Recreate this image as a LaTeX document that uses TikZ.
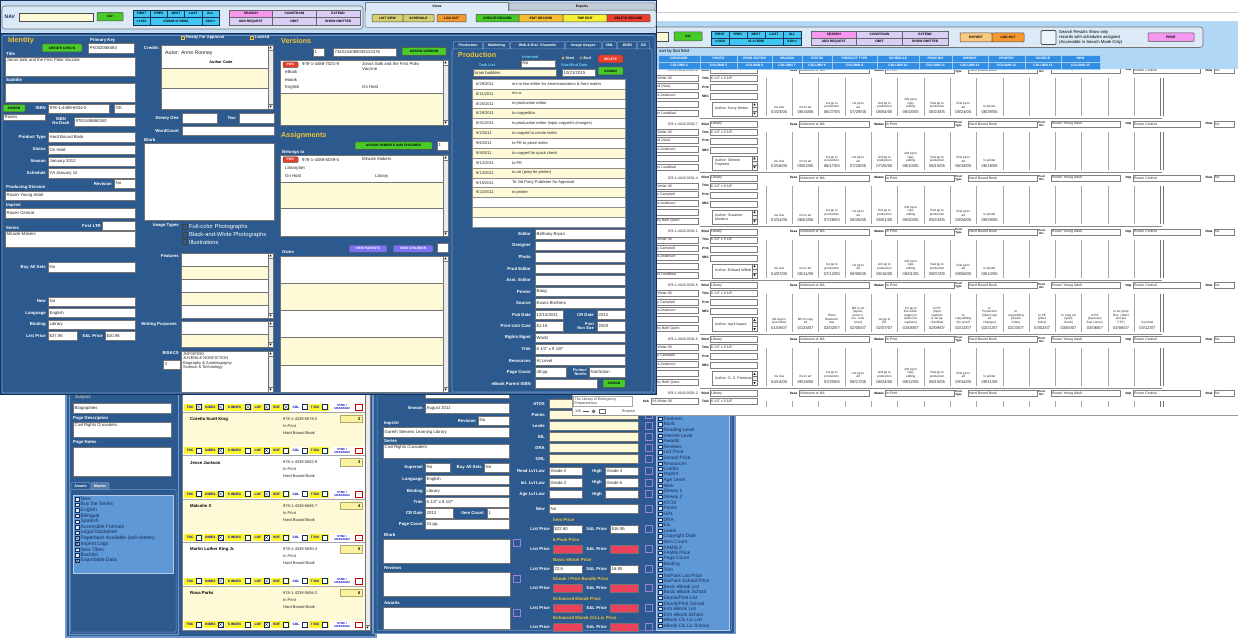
\documentclass[tikz,border=0pt]{standalone}
\usepackage{fontspec}
\setmainfont{Liberation Sans}
\definecolor{bodyblue}{RGB}{44,90,142}
\definecolor{edgeblue}{RGB}{112,152,204}
\definecolor{darkedge}{RGB}{22,50,90}
\definecolor{tbblue}{RGB}{196,221,244}
\definecolor{tbframe}{RGB}{220,233,247}
\definecolor{fieldyel}{RGB}{254,250,216}
\definecolor{gold}{RGB}{244,196,52}
\definecolor{cyanlbl}{RGB}{112,212,250}
\definecolor{btngreen}{RGB}{72,202,42}
\definecolor{btnred}{RGB}{234,62,46}
\definecolor{navcyan}{RGB}{64,198,240}
\definecolor{pinkbtn}{RGB}{246,152,240}
\definecolor{lavbtn}{RGB}{218,206,246}
\definecolor{olivebtn}{RGB}{216,208,112}
\definecolor{orangebtn}{RGB}{246,152,48}
\definecolor{lorange}{RGB}{250,200,128}
\definecolor{ambbtn}{RGB}{247,190,52}
\definecolor{yelbtn}{RGB}{246,240,52}
\definecolor{purplebtn}{RGB}{122,112,242}
\definecolor{listblue}{RGB}{94,152,214}
\definecolor{tabblue}{RGB}{50,142,228}
\definecolor{bandblue}{RGB}{178,215,245}
\definecolor{redfld}{RGB}{234,66,92}
\definecolor{tagyel}{RGB}{250,244,40}
\definecolor{navy}{RGB}{22,44,88}
\definecolor{ckpurple}{RGB}{156,126,222}
\definecolor{numyel}{RGB}{250,242,160}
\newcommand\sz[1]{\fontsize{#1}{#1}\selectfont}
\tikzset{
  lbl/.style={anchor=east,inner sep=0pt,text=white,font=\sz{4.3}\bfseries},
  lbw/.style={anchor=west,inner sep=0pt,text=white,font=\sz{4.3}\bfseries},
  ftxt/.style={anchor=west,inner sep=0pt,text=black!85,font=\sz{4.3}},
  btxt/.style={inner sep=0pt,text=black,font=\sz{3.3}\bfseries},
  head/.style={anchor=west,inner sep=0pt,text=gold,font=\sz{7.2}\bfseries},
  clbl/.style={inner sep=0pt,text=cyanlbl,font=\sz{3.8}\bfseries},
  rtxt/.style={anchor=west,inner sep=0pt,text=black!85,font=\sz{3.5}},
  rlbl/.style={anchor=east,inner sep=0pt,text=black,font=\sz{3.2}\bfseries},
  mst/.style={anchor=south,inner sep=0pt,align=center,text=black!85,font=\fontsize{3.1}{3.5}\selectfont},
  mdt/.style={inner sep=0pt,text=black!85,font=\sz{4.1}},
  tabt/.style={inner sep=0pt,text=white,font=\sz{3.3}\bfseries},
  tagt/.style={inner sep=0pt,text=blue!75!black,font=\sz{3.3}\bfseries},
  cklt/.style={anchor=west,inner sep=0pt,text=navy,font=\sz{4.8}},
  pdtab/.style={fill=bodyblue,draw=edgeblue,line width=0.5pt,rounded corners=1pt},
}
\newcommand\uiF[6][white]{\filldraw[fill=#1,draw=black!55,line width=0.4pt] (#2,#3) rectangle (#4,#5); \node[ftxt] at ({#2+1.5},{(#3+#5)/2}) {#6};}
\newcommand\uiFt[6][white]{\filldraw[fill=#1,draw=black!55,line width=0.4pt] (#2,#3) rectangle (#4,#5); \node[ftxt,anchor=north west] at ({#2+1.5},{#3+1.6}) {#6};}
\newcommand\uiB[6][btngreen]{\filldraw[fill=#1,draw=black!70,line width=0.5pt,rounded corners=0.8pt] (#2,#3) rectangle (#4,#5); \node[btxt] at ({(#2+#4)/2},{(#3+#5)/2}) {#6};}
\newcommand\uiBw[6][btnred]{\filldraw[fill=#1,draw=black!70,line width=0.5pt,rounded corners=0.8pt] (#2,#3) rectangle (#4,#5); \node[btxt,text=white] at ({(#2+#4)/2},{(#3+#5)/2}) {#6};}
\newcommand\uiS[4]{\filldraw[fill=black!8,draw=black!55,line width=0.3pt] (#1,#2) rectangle (#3,#4);
 \filldraw[fill=white,draw=black!55,line width=0.3pt] (#1,#2) rectangle (#3,{#2+5}) (#1,{#4-5}) rectangle (#3,#4);
 \fill[black] ({(#1+#3)/2},{#2+1.4}) -- ({(#1+#3)/2-1.2},{#2+3.4}) -- ({(#1+#3)/2+1.2},{#2+3.4}) -- cycle;
 \fill[black] ({(#1+#3)/2},{#4-1.4}) -- ({(#1+#3)/2-1.2},{#4-3.4}) -- ({(#1+#3)/2+1.2},{#4-3.4}) -- cycle;}
\newcommand\uiR[5]{\fill[black!80] ({#1+0.6},{#2+0.6}) rectangle ({#3+0.7},{#4+0.7}); \filldraw[fill=white,draw=black!50,line width=0.25pt] (#1,#2) rectangle (#3,#4); \node[rtxt] at ({#1+1},{(#2+#4)/2}) {#5};}
\newcommand\pck[2]{\draw[ckpurple,line width=0.5pt] (#1,#2) rectangle ({#1+7},{#2+7});}
\newcommand\navblock[5]{\pgfmathsetmacro\qnw{(#2-#1)/5}\pgfmathsetmacro\qym{(#3+#4)/2}
 \filldraw[fill=navcyan,draw=darkedge,line width=0.5pt] (#1,#3) rectangle (#2,#4);
 \foreach \qi/\qt in {0/FIRST,1/PREV,2/NEXT,3/LAST,4/ALL} {\draw[darkedge,line width=0.4pt] ({#1+\qnw*\qi},#3) rectangle ({#1+\qnw*(\qi+1)},\qym); \node[btxt] at ({#1+\qnw*(\qi+0.5)},{(#3+\qym)/2}) {\qt};}
 \draw[darkedge,line width=0.4pt] ({#1+\qnw},\qym) -- ({#1+\qnw},#4) ({#1+4*\qnw},\qym) -- ({#1+4*\qnw},#4);
 \node[btxt] at ({#1+\qnw/2},{(\qym+#4)/2}) {{<}{<}X10};
 \node[btxt] at ({#1+2.5*\qnw},{(\qym+#4)/2}) {#5};
 \node[btxt] at ({#1+4.5*\qnw},{(\qym+#4)/2}) {X10{>}{>}};}
\newcommand\srchblock[4]{\pgfmathsetmacro\qsw{(#2-#1)/3}\pgfmathsetmacro\qsm{(#3+#4)/2}
 \filldraw[fill=pinkbtn,draw=black!60,line width=0.4pt] (#1,#3) rectangle ({#1+\qsw},\qsm);
 \filldraw[fill=lavbtn,draw=black!60,line width=0.4pt] ({#1+\qsw},#3) rectangle (#2,\qsm);
 \filldraw[fill=lavbtn,draw=black!60,line width=0.4pt] (#1,\qsm) rectangle (#2,#4);
 \draw[black!60,line width=0.4pt] ({#1+2*\qsw},#3) -- ({#1+2*\qsw},#4) ({#1+\qsw},\qsm) -- ({#1+\qsw},#4);
 \node[btxt] at ({#1+\qsw/2},{(#3+\qsm)/2}) {SEARCH};
 \node[btxt] at ({#1+1.5*\qsw},{(#3+\qsm)/2}) {CONSTRAIN};
 \node[btxt] at ({#1+2.5*\qsw},{(#3+\qsm)/2}) {EXTEND};
 \node[btxt] at ({#1+\qsw/2},{(\qsm+#4)/2}) {ADD REQUEST};
 \node[btxt] at ({#1+1.5*\qsw},{(\qsm+#4)/2}) {OMIT};
 \node[btxt] at ({#1+2.5*\qsw},{(\qsm+#4)/2}) {SHOW OMITTED};}
\newcommand\recline[2]{%
 \node[rtxt,anchor=east] at (698,#1) {#2};
 \node[rlbl] at (709,#1) {Bind}; \uiR{710}{#1-3}{757}{#1+3}{Library}
 \node[rlbl] at (797.5,#1) {Seas}; \uiR{799}{#1-3}{869}{#1+3}{Unknown or NA}
 \node[rlbl] at (884,#1) {Status}; \uiR{885}{#1-3}{954}{#1+3}{In Print}
 \node[rlbl,align=center,font=\fontsize{2.8}{3}\selectfont\bfseries] at (962,#1) {Prod\\Type}; \uiR{968}{#1-3}{1037}{#1+3}{Hard Bound Book}
 \node[rlbl,align=center,font=\fontsize{2.8}{3}\selectfont\bfseries] at (1045,#1) {Prod\\Div}; \uiR{1051}{#1-3}{1120}{#1+3}{Rosen Young Adult}
 \node[rlbl] at (1131.5,#1) {Imp}; \uiR{1133}{#1-3}{1200}{#1+3}{Rosen Central}
 \node[rlbl] at (1212.5,#1) {New}; \uiR{1214}{#1-3}{1234}{#1+3}{No}}
\newcommand\rec[7]{%
 \recline{#1}{#2}
 \uiR{651}{#1+5}{698}{#1+11}{#3}
 \uiR{651}{#1+13.5}{698}{#1+19.5}{#4}
 \uiR{651}{#1+22}{698}{#1+28}{#5}
 \uiR{651}{#1+31}{698}{#1+37}{}
 \uiR{651}{#1+40}{698}{#1+46}{#6}
 \node[rlbl] at (709,#1+8) {Trim}; \uiR{710}{#1+5}{757}{#1+11}{6 1/2" x 9 1/8"}
 \node[rlbl] at (709,#1+17) {Prnt}; \uiR{710}{#1+14}{757}{#1+20}{}
 \node[rlbl] at (709,#1+26) {SRC}; \uiR{710}{#1+23}{757}{#1+29}{}
 \uiR{712}{#1+32}{757}{#1+46}{}
 \node[rtxt,align=left,font=\fontsize{3.6}{4}\selectfont] at (715,#1+39) {#7};
 \uiS{752}{#1+32}{757}{#1+46}
 \foreach \qk in {0,...,14} {\draw[black!35,line width=0.35pt] ({766+26.3*\qk},#1+8) -- ({766+26.3*\qk},#1+46);}
 \draw[black!55,line width=0.5pt] (1160.5,#1+8) -- (1160.5,#1+46) (1163,#1+8) -- (1163,#1+46);
 \draw[black!45,line width=0.6pt] (700,#1+48.5) -- (1162,#1+48.5);}
\newcommand\stdms{ms due,ms to art,1st pp to\\production,1st pp to\\art,2nd pp to\\production,2nd pp to\\copy\\editing,final pp to\\production,final pp to\\art,to printer}
\newcommand\ems{{Ms due to\\Line Editor},{MS to copy\\ed},{Photo\\Research\\due},{MS to art\\(layout,\\place h.\\res. color\\corex)},{1st pp to\\PE},{1st pp to\\line editor\\(pages to\\author for\\captions)},{to PE\\(input\\captions\\\& 1st pp\\checklist)},{to\\copyediting\\(for proof)},{to\\Production\\(input copy\\ed\\changes)},{to\\copyediting\\(create\\index)},{to PE\\(place\\index)},{to copy ed\\(quick\\check)},{to PE\\(input any\\final correx)},{to art (prep\\files, collect\\and put\\FTP)},to printer}
\newcommand\msrow[3]{\foreach \qt [count=\qk from 0] in #2 {\node[mst] at ({779.2+26.3*\qk},#1+38.5) {\qt};}
 \foreach \qd [count=\qk from 0] in {#3} {\node[mdt] at ({779.2+26.3*\qk},#1+42.3) {\qd};}}
\newcommand\tck[3]{\filldraw[fill=white,draw=navy,line width=0.3pt] (#1,{#2+1}) rectangle ({#1+5},{#2+6}); \ifnum#3=1 \draw[navy,line width=0.3pt] (#1,{#2+1}) -- ({#1+5},{#2+6}) (#1,{#2+6}) -- ({#1+5},{#2+1});\fi}
\newcommand\tagstrip[8]{%
 \fill[white] (182,#1) rectangle (365,{#1+7});
 \fill[tagyel] (184,#1) rectangle (203,{#1+7}); \node[tagt] at (190,{#1+3.5}) {TOC}; \tck{196}{#1}{#2}
 \fill[tagyel] (204,#1) rectangle (224,{#1+7}); \node[tagt] at (210.5,{#1+3.5}) {INDEX}; \tck{218}{#1}{#3}
 \fill[tagyel] (225,#1) rectangle (252,{#1+7}); \node[tagt] at (234.5,{#1+3.5}) {S INDEX}; \tck{245.5}{#1}{#4}
 \fill[tagyel] (253,#1) rectangle (270,{#1+7}); \node[tagt] at (258,{#1+3.5}) {LOF}; \tck{264}{#1}{#5}
 \fill[tagyel] (271,#1) rectangle (290,{#1+7}); \node[tagt] at (276.5,{#1+3.5}) {SOF}; \tck{283.5}{#1}{#6}
 \node[tagt] at (296,{#1+3.5}) {COL}; \tck{302}{#1}{#7}
 \fill[tagyel] (309,#1) rectangle (329,{#1+7}); \node[tagt] at (315,{#1+3.5}) {T IDX}; \tck{322.5}{#1}{#8}
 \node[tagt,align=center,font=\fontsize{2.9}{3}\selectfont\bfseries] at (342,{#1+3.5}) {SYNC /\\UNASSIGN};
 \filldraw[fill=white,draw=red!80!black,line width=0.4pt] (355,{#1+1}) rectangle (362,{#1+6.5});}
\newcommand\arec[5]{\fill[#2] (182,#1) rectangle (365,{#1+35}); \draw[black!35,line width=0.4pt] (182,#1) -- (365,#1);
 \node[anchor=west,inner sep=0,font=\sz{4.3}\bfseries] at (190,{#1+7}) {#3};
 \node[ftxt,font=\sz{4}] at (283,{#1+7}) {#4}; \node[ftxt,font=\sz{4}] at (283,{#1+14}) {In Print}; \node[ftxt,font=\sz{4}] at (283,{#1+21}) {Hard Bound Book};
 \filldraw[fill=numyel,draw=numyel!70!black,line width=0.3pt] (340,{#1+3}) rectangle (362,{#1+10.5});
 \node[anchor=east,inner sep=0,font=\sz{4}\bfseries] at (360.5,{#1+6.75}) {#5};}
\newcommand\prow[4]{\node[lbl] at (550,#1) {List Price}; \uiF[#2]{553}{#1-4.3}{582}{#1+4.3}{#3} \node[lbl] at (607,#1) {S\&L Price}; \uiF[#2]{610}{#1-4.3}{638}{#1+4.3}{#4} \pck{645}{#1-3.5}}
\begin{document}
\begin{tikzpicture}[x=1pt,y=-1pt]
\useasboundingbox (0,0) rectangle (1238,639);
\fill[white] (0,0) rectangle (1238,639);

%================ bottom-left window (A)
\filldraw[fill=bodyblue,draw=edgeblue,line width=1.2pt] (66,300) rectangle (376,637);
\draw[edgeblue,line width=0.6pt] (69.5,300) -- (69.5,634) -- (178,634) -- (178,300);
\node[lbw,text=gray!55] at (75,397.5) {Subject};
\uiF{73}{403}{171}{413}{Biographies}
\node[lbw] at (73,418) {Page Description};
\uiFt{73}{422}{171}{437}{Civil Rights Crusaders}
\node[lbw] at (73,442) {Page Notes};
\uiF{73}{447}{171}{476}{}
\draw[edgeblue,line width=0.5pt,rounded corners=1pt] (70.5,489.5) rectangle (176,632);
\filldraw[pdtab] (71,482.5) rectangle (90,489.5);
\filldraw[pdtab,fill=bodyblue!80!white] (91,482.5) rectangle (109,489.5);
\node[tabt,font=\sz{3.8}\bfseries] at (80.5,486) {Assets};
\node[tabt,font=\sz{3.8}\bfseries] at (100,486) {Master};
\filldraw[fill=listblue,draw=edgeblue!50!white,line width=0.5pt] (73,495.5) rectangle (173,573);
\foreach \qt/\qc [count=\qk from 0] in {New/0,Buy the Series/0,English/0,Bilingual/0,Spanish/0,Accessible Formats/0,Legal Disclaimer/0,Paperback Available (sell-sheets)/1,Imprint Logo/1,New Titles/0,Backlist/0,Exportable Data/1}
{\pgfmathsetmacro\qy{499+5.6*\qk}
 \filldraw[fill=white!80!listblue,draw=navy,line width=0.3pt] (75.5,\qy-1.7) rectangle (79,\qy+1.7);
 \ifnum\qc=1 \draw[navy,line width=0.3pt] (75.5,\qy-1.7) -- (79,\qy+1.7) (75.5,\qy+1.7) -- (79,\qy-1.7);\fi
 \node[cklt,font=\sz{5}] at (80.5,\qy) {\qt};}
\fill[white] (182,300) rectangle (370,630);
\tagstrip{403.5}{1}{1}{1}{1}{1}{0}{0}
\arec{412}{fieldyel}{Coretta Scott King}{978-1-4339-5678-2}{2}
\tagstrip{447}{0}{1}{0}{1}{0}{0}{0}
\arec{455.5}{white}{Jesse Jackson}{978-1-4339-5682-9}{3}
\tagstrip{490.5}{0}{1}{0}{1}{0}{0}{0}
\arec{499}{fieldyel}{Malcolm X}{978-1-4339-5686-7}{4}
\tagstrip{534}{0}{1}{0}{1}{0}{0}{0}
\arec{542.5}{white}{Martin Luther King Jr.}{978-1-4339-5690-4}{5}
\tagstrip{577.5}{0}{1}{0}{1}{0}{0}{0}
\arec{586}{fieldyel}{Rosa Parks}{978-1-4339-5694-2}{6}
\tagstrip{621}{0}{1}{0}{1}{0}{0}{0}
\draw[black!50,line width=0.4pt] (182,300) rectangle (370,630);
\uiS{365}{300}{370}{630}

%================ bottom-middle window (B)
\filldraw[fill=bodyblue,draw=edgeblue,line width=1.2pt] (373,300) rectangle (735,633.5);
\draw[edgeblue,line width=0.5pt,rounded corners=1pt] (377,300) rectangle (731.5,630.5);
\node[lbl,text=gray!60] at (423,393) {Status};
\uiF{425}{389}{509}{398}{In Print}
\node[lbl] at (423,408) {Season}; \uiF{425}{403}{509}{413}{August 2011}
\node[lbl] at (476,420.5) {Revision}; \uiF{478}{416}{509}{425}{No}
\node[lbw] at (384,423) {Imprint}; \uiF{383}{427}{509}{437}{Gareth Stevens Learning Library}
\node[lbw] at (384,441) {Series}; \uiFt{383}{444}{509}{458}{Civil Rights Crusaders}
\node[lbl] at (423,467.5) {Superset}; \uiF{425}{463}{450}{472}{No}
\node[lbl] at (482,467.5) {Buy All Sets}; \uiF{484}{463}{509}{472}{No}
\node[lbl] at (423,479.5) {Language}; \uiF{425}{475}{509}{484}{English}
\node[lbl] at (423,491) {Binding}; \uiF{425}{486.5}{509}{495.5}{Library}
\node[lbl] at (423,502) {Trim}; \uiF{425}{497.5}{509}{507}{8 1/2" x 8 1/2"}
\node[lbl] at (423,513) {CR Date}; \uiF{425}{508.5}{453}{518}{2012}
\node[lbl] at (484,513) {Item Count}; \uiF{487}{508.5}{509}{518}{1}
\node[lbl] at (423,524) {Page Count}; \uiF{425}{519.5}{509}{529}{24 pp.}
\node[lbw] at (384,535) {Blurb}; \uiF{383}{539}{510}{563}{} \pck{513}{539}
\node[lbw] at (384,568) {Reviews}; \uiF{383}{572}{510}{596}{} \pck{513}{575}
\node[lbw] at (384,603) {Awards}; \uiF{383}{607}{510}{629.5}{} \pck{513}{609}
\foreach \qt/\qy in {ATOS/404,Points/415,Lexile/426,EIL/437,DRA/448,GRL/459}
 {\node[lbl] at (545,\qy) {\qt}; \uiF[fieldyel]{549}{\qy-4.5}{638}{\qy+4.5}{} \pck{645}{\qy-3.5}}
\node[lbl] at (545,471) {Read Lvl Low}; \uiF{549}{467}{582}{475.5}{Grade 2} \node[lbl] at (602,471) {High}; \uiF{605}{467}{638}{475.5}{Grade 3} \pck{645}{467.5}
\node[lbl] at (545,482.5) {Int. Lvl Low}; \uiF{549}{478.5}{582}{487}{Grade 2} \node[lbl] at (602,482.5) {High}; \uiF{605}{478.5}{638}{487}{Grade 5} \pck{645}{479}
\node[lbl] at (545,494) {Age Lvl Low}; \uiF{549}{490}{582}{498.5}{} \node[lbl] at (602,494) {High}; \uiF{605}{490}{638}{498.5}{} \pck{645}{490.5}
\node[lbl] at (545,509) {New}; \uiF{549}{504.5}{638}{513.5}{No} \pck{645}{505.5}
\node[head,font=\sz{4.4}\bfseries] at (553,520) {Item Price}; \prow{529}{white}{\$22.60}{\$16.95}
\node[head,font=\sz{4.4}\bfseries] at (553,540) {6-Pack Price}; \prow{549}{redfld}{}{}
\node[head,font=\sz{4.4}\bfseries] at (553,560) {Basic eBook Price}; \prow{569}{white}{22.6}{16.95}
\node[head,font=\sz{4.4}\bfseries] at (553,579) {Ebook / Print Bundle Price}; \prow{588}{redfld}{}{}
\node[head,font=\sz{4.4}\bfseries] at (553,599) {Enhanced Ebook Price}; \prow{608}{redfld}{}{}
\node[head,font=\sz{4.4}\bfseries] at (553,618) {Enhanced Ebook Cls Lic Price}; \prow{627}{redfld}{}{}
\filldraw[fill=listblue,draw=edgeblue!50!white,line width=0.5pt] (656,300) rectangle (729,630.5);
\foreach \qt [count=\qk from 0] in {Features,Blurb,Reading Level,Interest Level,Awards,Reviews,List Price,School Price,Resources,Credits,Imprint,Age Level,New,Dewey 1,Dewey 2,ATOS,Points,GRL,DRA,EIL,Lexile,Copyright Date,Item Count,FAMIS \#,FAMIS Price,Page Count,Binding,Trim,SixPack List Price,SixPack School Price,Basic eBook List,Basic eBook School,Ebook/Print List,Ebook/Print School,Enh eBook List,Enh eBook School,eBook Cls Lic List,eBook Cls Lic School}
{\pgfmathsetmacro\qy{418.6+5.6*\qk}
 \filldraw[fill=white!80!listblue,draw=navy,line width=0.3pt] (658.5,\qy-1.6) rectangle (662,\qy+1.6);
 \node[cklt] at (663.5,\qy) {\qt};}

%================ right schedule window
\begin{scope}
\clip (572,0) rectangle (1238,415.6);
\fill[white] (572,0) rectangle (1238,415.6);
\draw[black!20,line width=0.5pt] (572,12) -- (1238,12);
\rec{70}{978-1-4042-0529-0}{YA Writer 06}{Ward (Nick)}{Sara Anderson}{Anne Lundblad}{Author: Kerry Hinton}
\rec{123.9}{978-1-4042-0530-7}{YA Writer 06}{Ward (Nick)}{Sara Anderson}{Anne Lundblad}{Author: Simone\\Payment}
\rec{177.8}{978-1-4042-0531-4}{YA Writer 06}{Amy Campbell}{Sara Anderson}{Kathy Beth Quinn}{Author: Suzanne\\Murdico}
\rec{231.7}{978-1-4042-0532-1}{YA Writer 06}{Amy Campbell}{Sara Anderson}{Anne Lundblad}{Author: Edward Willett}
\rec{285.6}{978-1-4042-0533-8}{YA Writer 06}{Amy Campbell}{Sara Anderson}{Kathy Beth Quinn}{Author: April Isaacs}
\rec{339.5}{978-1-4042-0534-5}{YA Writer 06}{Amy Campbell}{Sara Anderson}{Kathy Beth Quinn}{Author: G. S. Prentzas}
% last record: only its visible top part
\recline{393.4}{978-1-4042-0535-2}
\uiR{651}{398.4}{698}{404.4}{YA Writer 06}
\uiR{651}{406.9}{698}{412.9}{}
\node[rlbl] at (709,401.4) {Trim}; \uiR{710}{398.4}{757}{404.4}{6 1/2" x 9 1/8"}
\uiR{710}{407.4}{757}{413.4}{}
\foreach \qk in {0,...,14} {\draw[black!35,line width=0.35pt] ({766+26.3*\qk},401.4) -- ({766+26.3*\qk},415);}
\draw[black!55,line width=0.5pt] (1160.5,401.4) -- (1160.5,415) (1163,401.4) -- (1163,415);
\msrow{70}{\stdms}{03/23/05,06/16/05,06/27/05,07/29/05,08/04/05,08/18/05,08/23/05,08/24/05,08/29/05}
\msrow{123.9}{\stdms}{03/16/05,05/02/05,06/17/05,07/18/05,07/25/05,08/10/05,08/15/05,08/16/05,08/19/05}
\msrow{177.8}{\stdms}{03/31/05,06/02/05,07/28/05,08/25/05,09/01/05,09/20/05,09/23/05,09/26/05,09/29/05}
\msrow{231.7}{\stdms}{04/07/05,05/11/05,07/12/05,08/09/05,08/16/05,09/01/05,09/07/05,09/08/05,09/13/05}
\msrow{285.6}{\ems}{01/19/07,01/26/07,02/02/07,02/05/07,02/07/07,02/08/07,02/09/07,02/13/07,02/21/07,02/23/07,03/02/07,03/05/07,03/06/07,03/08/07,03/12/07}
\msrow{339.5}{\stdms}{04/14/05,05/18/05,07/20/05,08/17/05,08/24/05,09/12/05,09/15/05,09/16/05,09/21/05}
% band, toolbar and column heads
\fill[bandblue] (572,21) rectangle (1238,69);
\filldraw[fill=tbframe,draw=black!55,rounded corners=3pt,line width=0.6pt] (640,27) rectangle (1203,47.5);
\filldraw[fill=fieldyel,draw=black!70,line width=0.5pt] (620,32) rectangle (668,41);
\uiB{674}{32}{702}{41}{GO}
\navblock{711}{801}{31}{45}{\#1 of 3599}
\srchblock{811}{948}{31}{45}
\uiB[lorange]{960}{33}{992}{42}{EXPORT}
\uiB[orangebtn]{992}{33}{1024}{42}{LOG OUT}
\filldraw[fill=tbframe!50!white,draw=black!70,line width=0.7pt,rounded corners=1pt] (1041,30.5) rectangle (1056,44.5);
\node[anchor=west,inner sep=0,align=left,font=\fontsize{4.2}{4.8}\selectfont] at (1059,37.5) {Search Results Show only\\records with schedules assigned\\(Accessible in Search Mode Only)};
\uiB[pinkbtn]{1148}{33}{1194}{41.5}{PRINT}
\node[anchor=west,inner sep=0,font=\sz{4.2}] at (659,51.5) {sort by that field};
\foreach \qa/\qb/\qn/\qc in {658/700/DESIGNER/4,700/737/PHOTO/5,737/772/PROD EDITOR/6,772/802/SEASON/7,802/832/STATUS/8,832/877/PRODUCT TYPE/9,877/919/SCHEDULE/10,919/952/PROD DIV/11,952/988/IMPRINT/12,988/1025/PRINTER/13,1025/1061/SOURCE/14,1061/1100/NEW/15}
{\filldraw[fill=tabblue,draw=white!55!tabblue,line width=0.4pt] (\qa,55) rectangle (\qb,62);
 \filldraw[fill=tabblue,draw=white!55!tabblue,line width=0.4pt] (\qa,62) rectangle (\qb,69);
 \node[tabt] at ({(\qa+\qb)/2},58.6) {\qn};
 \node[tabt] at ({(\qa+\qb)/2},65.6) {COLUMN \qc};}
% row G extras and status bar
\filldraw[fill=white,draw=black!35,line width=0.4pt] (573,396.5) rectangle (632,406.5);
\node[anchor=west,inner sep=0,align=left,text=black!75,font=\fontsize{3.6}{3.9}\selectfont] at (574.5,401.5) {The Library of Emergency\\Preparedness};
\node[rlbl] at (649,401.5) {Seh};
\fill[white] (572,407.2) rectangle (1238,415.6);
\draw[black!40,line width=0.6pt] (572,415) -- (1238,415);
\draw[black!40,line width=0.6pt] (572.5,395) -- (572.5,415);
\node[anchor=west,inner sep=0,text=black!70,font=\sz{3.8}] at (575,411.2) {100};
\draw[black!70,line width=0.6pt] (583,411.2) -- (589,411.2);
\draw[black!70,line width=0.4pt] (593.5,411.2) circle (1.6) (591.9,411.2) -- (595.1,411.2) (593.5,409.6) -- (593.5,412.8);
\draw[black!60,line width=0.4pt] (599,409.6) rectangle (605,412.8);
\node[anchor=west,inner sep=0,text=black!70,font=\sz{3.8}] at (622,411.2) {Browse};
\end{scope}

%================ front window
\fill[bodyblue] (0,0) rectangle (657,395);
\fill[tbblue] (0,0) rectangle (657,33.5);
\draw[darkedge,line width=0.8pt] (0,33.5) -- (657,33.5);
\draw[edgeblue,line width=0.7pt,rounded corners=2pt] (2,35.5) rectangle (655,393);
\draw[darkedge,line width=1pt] (0.5,0.5) rectangle (656.5,394.5);
% toolbar
\filldraw[fill=tbframe,draw=black!55,rounded corners=3pt,line width=0.6pt] (2,6) rectangle (363,29);
\node[anchor=west,inner sep=0,text=navy,font=\sz{5}\bfseries] at (4.5,17) {NAV};
\filldraw[fill=fieldyel,draw=black!70,line width=0.5pt] (19,13) rectangle (93,21);
\uiB{97}{12.5}{123}{21}{GO}
\navblock{133}{219}{10}{25}{\#32448 of 34561}
\srchblock{229}{360}{10}{25}
\filldraw[fill=tbframe,draw=black!50,line width=0.5pt,rounded corners=2pt] (365,10.2) rectangle (656,27.5);
\filldraw[fill=tbframe!88!black,draw=black!50,line width=0.5pt,rounded corners=1pt] (509,3) rectangle (655,10.2);
\filldraw[fill=tbframe,draw=black!50,line width=0.5pt] (365.3,11) -- (365.3,2) -- (508,2) -- (508,11);
\fill[tbframe] (365.8,9) rectangle (507.5,11.5);
\node[btxt] at (437,6.3) {Views};
\node[btxt] at (582,6.8) {Exports};
\uiB[olivebtn]{372}{14.5}{403}{22}{LIST VIEW}
\uiB[olivebtn]{403}{14.5}{434}{22}{SCHEDULE}
\uiB[orangebtn]{437}{14.5}{466}{22}{LOG OUT}
\uiB[btngreen]{476}{14.5}{519}{22}{CREATE RECORD}
\uiB[ambbtn]{519}{14.5}{563}{22}{EDIT RECORD}
\uiB[yelbtn]{563}{14.5}{607}{22}{TMP EDIT}
\uiB[btnred]{607}{14.5}{650}{22}{DELETE RECORD}
% identity column
\node[head] at (8,41) {Identity};
\uiB{42}{44}{82}{52}{CREATE 6-PACK}
\node[lbw] at (90,40) {Primary Key};
\uiF{88}{43}{134}{53}{PK002068483}
\node[lbw] at (6,53.5) {Title};
\uiFt{5}{57}{135}{76}{Jonas Salk and the First Polio Vaccine}
\node[lbw] at (6,80) {Subtitle};
\uiF{5}{83}{135}{102}{}
\uiB{3}{104.5}{25}{112}{ASSIGN}
\node[lbl] at (46,108.5) {ISBN};
\uiF{48}{104}{109}{113}{978-1-4488-6034-0}
\uiF{114}{104}{135}{113}{OK}
\uiF{3}{114}{45}{120}{Rosen}
\node[lbl,anchor=center,align=center,font=\fontsize{4.2}{4.3}\selectfont\bfseries] at (61,121) {ISBN\\No Dash};
\uiF{74}{117}{135}{126}{9781448860340}
\node[lbl] at (46,137) {Product Type}; \uiF{48}{132}{135}{142}{Hard Bound Book}
\node[lbl] at (46,149.5) {Status}; \uiF{48}{145}{135}{154}{On Hold}
\node[lbl] at (46,161.5) {Season}; \uiF{48}{157}{135}{166}{January 2012}
\node[lbl] at (46,173) {Schedule}; \uiF{48}{168}{135}{178}{YA January 12}
\node[lbl] at (112,183.5) {Revision}; \uiF{114}{179}{135}{188}{No}
\node[lbw] at (6,187) {Producing Division};
\uiF{5}{191}{135}{200}{Rosen Young Adult}
\node[lbw] at (6,205) {Imprint};
\uiF{5}{208}{135}{218}{Rosen Central}
\node[lbl] at (101,225.5) {First LTR}; \uiF{102}{221}{135}{230}{}
\node[lbw] at (6,228) {Series};
\uiFt{5}{231}{135}{247}{Miracle Makers}
\node[lbl] at (46,267) {Buy All Sets}; \uiF{48}{262}{135}{272}{No}
\node[lbl] at (46,301.5) {New}; \uiF{48}{297}{135}{306}{No}
\node[lbl] at (46,313) {Language}; \uiF{48}{308.5}{135}{317.5}{English}
\node[lbl] at (46,324.5) {Binding}; \uiF{48}{320}{135}{329}{Library}
\node[lbl] at (46,336) {List Price}; \uiF{48}{331.5}{77}{340.5}{\$27.95}
\node[lbl] at (103,336) {S\&L Price}; \uiF{105}{331.5}{135}{340.5}{\$20.95}
% credits column
\draw[gold,line width=0.4pt] (181,35.8) rectangle (184,38.8);
\node[lbw,font=\sz{4}\bfseries] at (186,37.3) {Ready For Approval};
\draw[gold,line width=0.4pt] (250,35.8) rectangle (253,38.8);
\node[lbw,font=\sz{4}\bfseries] at (255,37.3) {Locked};
\node[lbl] at (159,48) {Credits};
\filldraw[fill=white,draw=black!55,line width=0.4pt] (161,45) rectangle (268,68);
\uiF[fieldyel]{161}{68}{268}{88}{}
\uiF{161}{88}{268}{109}{}
\uiS{268}{45}{273}{109}
\node[ftxt,font=\sz{5.2}] at (165,53) {Autor: Anne Rooney};
\node[inner sep=0,font=\sz{3.8}\bfseries] at (221,62.5) {Author Code};
\node[lbl] at (179,118) {Dewey One}; \uiF{182}{113}{217}{123}{}
\node[lbl] at (236,118) {Two}; \uiF{239}{113}{274}{123}{}
\node[lbl] at (179,131) {WordCount}; \uiF{182}{126}{274}{135.5}{}
\node[lbw] at (144,139.5) {Blurb};
\uiF{144}{143}{274}{220}{}
\node[lbl] at (179,225) {Image Types};
\foreach \qy/\qt in {227/Full-color Photographs,234.5/Black-and-White Photographs,242/Illustrations}
 {\filldraw[fill=bodyblue,draw=black!75,line width=0.4pt] (182,\qy-2.5) rectangle (187,\qy+2.5);
  \node[anchor=west,inner sep=0,text=white,font=\sz{5.8}] at (189,\qy) {\qt};}
\node[lbl] at (179,256) {Features};
\uiF{181}{253}{268}{266}{} \uiF[fieldyel]{181}{266}{268}{279}{} \uiF{181}{279}{268}{292}{} \uiF[fieldyel]{181}{292}{268}{305}{} \uiF{181}{305}{268}{318}{}
\uiS{268}{253}{273}{318}
\node[lbl] at (177,324) {Writing Purposes};
\uiF{181}{321}{268}{334}{} \uiF[fieldyel]{181}{334}{268}{347}{}
\uiS{268}{321}{273}{347}
\node[lbl] at (179,353) {BISACS};
\uiF{163}{360}{180}{369}{3}
\uiF{181}{351}{268}{392}{}
\uiS{268}{351}{273}{392}
\node[anchor=north west,inner sep=0,align=left,text=black!85,font=\fontsize{4}{4.4}\selectfont] at (183,352.5) {JNF007090\\JUVENILE NONFICTION\\Biography \& Autobiography\\Science \& Technology};
% versions / assignments
\node[head] at (281,41) {Versions};
\uiF{313}{48}{324}{56}{1}
\uiF{333}{48}{396}{56}{7342244069035122476}
\uiB{402}{47.5}{446}{55.5}{ASSIGN VERSION}
\uiF{280}{60}{443}{93}{} \uiF[fieldyel]{280}{93}{443}{125}{}
\uiS{443}{60}{448}{125}
\uiBw{283}{62}{298}{67.5}{PWV}
\node[ftxt] at (302,64.5) {978-1-4488-7021-9};
\node[ftxt,anchor=north west,align=left,font=\fontsize{4.3}{4.8}\selectfont] at (362,62.5) {Jonas Salk and the First Polio\\Vaccine};
\node[ftxt] at (285,72) {eBook};
\node[ftxt] at (285,80) {ebook};
\node[ftxt] at (285,87) {English};
\node[ftxt] at (362,87) {On Hold};
\node[head] at (281,136) {Assignments};
\uiB{355}{142}{432}{149.5}{ASSIGN PARENTS AND CHILDREN}
\uiF{437}{141}{448}{150}{1}
\node[lbw] at (282,152) {Belongs to};
\uiF{280}{155}{443}{182}{} \uiF[fieldyel]{280}{182}{443}{208}{} \uiF{280}{208}{443}{236}{}
\uiS{443}{155}{448}{236}
\uiBw{283}{157}{298}{162.5}{PWV}
\node[ftxt] at (302,159.7) {978-1-4488-6039-5};
\node[ftxt] at (362,159) {Miracle Makers};
\node[ftxt] at (285,168) {LibrarySet};
\node[ftxt] at (285,176) {On Hold};
\node[ftxt] at (375,176) {Library};
\node[lbw] at (282,252) {Owns};
\uiBw[purplebtn]{349}{245}{387}{252.5}{VIEW PARENTS}
\uiBw[purplebtn]{393}{245}{433}{252.5}{VIEW CHILDREN}
\uiF{437}{243}{448}{252}{}
\uiF{280}{256}{443}{283.2}{} \uiF[fieldyel]{280}{283.2}{443}{310.4}{} \uiF{280}{310.4}{443}{337.6}{} \uiF[fieldyel]{280}{337.6}{443}{364.8}{} \uiF{280}{364.8}{443}{392}{}
\uiS{443}{256}{448}{392}
% production panel
\draw[edgeblue,line width=0.6pt,rounded corners=2pt] (452,48.5) rectangle (652,392);
\foreach \qa/\qb/\qt in {453/483/Production,483/510/Marketing,510/565/Web \& Dist. Channels,565/602/Image Usages,602/617/XML,617/637/JSON,637/650/GS}
 {\filldraw[pdtab] (\qa+0.4,41.5) rectangle (\qb-0.4,49); \node[tabt,font=\sz{3.6}\bfseries] at ({(\qa+\qb)/2},45.3) {\qt};}
\node[head] at (458,55) {Production};
\node[clbl,anchor=west] at (522,57) {Inherited};
\uiF{521}{60}{555}{67}{No}
\fill[gold] (563,58) circle (1.3); \node[lbw,font=\sz{3.8}\bfseries] at (565.5,58) {Start};
\draw[gold,line width=0.4pt] (581,58) circle (1.3); \node[lbw,font=\sz{3.8}\bfseries] at (583.5,58) {End};
\uiBw{598}{55}{623}{63}{DELETE}
\node[clbl] at (487,65.2) {Task List};
\uiF[fieldyel]{473}{69}{556}{76}{brain builders}
\node[clbl,anchor=west] at (561,65.2) {Start/End Date};
\uiF{562}{69}{595}{76}{10/21/2015}
\uiB{598}{67}{623}{75}{ASSIGN}
\foreach \qk in {0,...,14} {\filldraw[fill=white,draw=black!45,line width=0.35pt] (472,{79+9.87*\qk}) rectangle (625,{79+9.87*(\qk+1)});}
\foreach \qk in {1,3,...,13} {\filldraw[fill=fieldyel,draw=black!45,line width=0.35pt] (472,{79+9.87*\qk}) rectangle (625,{79+9.87*(\qk+1)});}
\foreach \qk/\qt in {0/ms to line editor for Americanization \& front matter,1/ms w/art (for layout),2/to production editor,3/to copyeditor,4/to production editor (input copyed's changes),5/to copyed to create index,6/to PE to place index,7/to  copyed for quick check,8/to PE,9/to art (prep for printer),10/To 3rd Party Publisher for Approval,11/to printer}
 {\node[ftxt,font=\sz{4}] at (512,{83.9+9.87*\qk}) {\qt};}
\node[ftxt,font=\sz{4}] at (476,83.9) {6/29/2011};
\node[ftxt,font=\sz{4}] at (476,93.8) {8/11/2011};
\node[ftxt,font=\sz{4}] at (476,103.6) {8/25/2011};
\node[ftxt,font=\sz{4}] at (476,113.5) {8/29/2011};
\node[ftxt,font=\sz{4}] at (476,123.4) {8/31/2011};
\node[ftxt,font=\sz{4}] at (476,133.3) {9/2/2011};
\node[ftxt,font=\sz{4}] at (476,143.1) {9/6/2011};
\node[ftxt,font=\sz{4}] at (476,153.0) {9/9/2011};
\node[ftxt,font=\sz{4}] at (476,162.9) {9/12/2011};
\node[ftxt,font=\sz{4}] at (476,172.7) {9/13/2011};
\node[ftxt,font=\sz{4}] at (476,182.6) {9/15/2011};
\node[ftxt,font=\sz{4}] at (476,192.5) {9/22/2011};
\node[lbl] at (531,234.2) {Editor}; \uiF{535}{229.5}{625}{239}{Bethany Bryan}
\node[lbl] at (531,245.7) {Designer}; \uiF{535}{241}{625}{250.5}{}
\node[lbl] at (531,257.2) {Photo}; \uiF{535}{252.5}{625}{262}{}
\node[lbl] at (531,268.7) {Prod Editor}; \uiF{535}{264}{625}{273.5}{}
\node[lbl] at (531,280.2) {Asst. Editor}; \uiF{535}{275.5}{625}{285}{}
\node[lbl] at (531,291.7) {Printer}; \uiF{535}{287}{625}{296.5}{Bang}
\node[lbl] at (531,303.2) {Source}; \uiF{535}{298.5}{625}{308}{Evans Brothers}
\node[lbl] at (531,314.7) {Pub Date}; \uiF{535}{310}{563}{319.5}{12/15/2011}
\node[lbl] at (594,314.7) {CR Date}; \uiF{597}{310}{625}{319.5}{2012}
\node[lbl] at (531,326.2) {Print Unit Cost}; \uiF{535}{321.5}{563}{331}{\$1.16}
\node[lbl,align=right,font=\fontsize{3.9}{4}\selectfont\bfseries] at (594,326.2) {Print\\Run Size}; \uiF{597}{321.5}{625}{331}{2000}
\node[lbl] at (531,337.7) {Rights Mgmt}; \uiF{535}{333}{625}{342.5}{World}
\node[lbl] at (531,349.2) {Trim}; \uiF{535}{344.5}{625}{354}{6 1/2" x 9 1/8"}
\node[lbl] at (531,360.7) {Resources}; \uiF{535}{356}{625}{365.5}{At Level}
\node[lbl] at (531,372.2) {Page Count}; \uiF{535}{367.5}{566}{377}{48 pp.}
\node[lbl,align=right,font=\fontsize{3.9}{4}\selectfont\bfseries] at (587,372.2) {Fiction/\\Nonfic}; \uiF{589}{367.5}{625}{377}{Nonfiction}
\node[lbl] at (531,383.7) {eBook Parent ISBN}; \uiF{535}{379}{597}{388.5}{}
\uiB{603}{379.5}{625}{387.5}{ASSIGN}
\end{tikzpicture}
\end{document}
